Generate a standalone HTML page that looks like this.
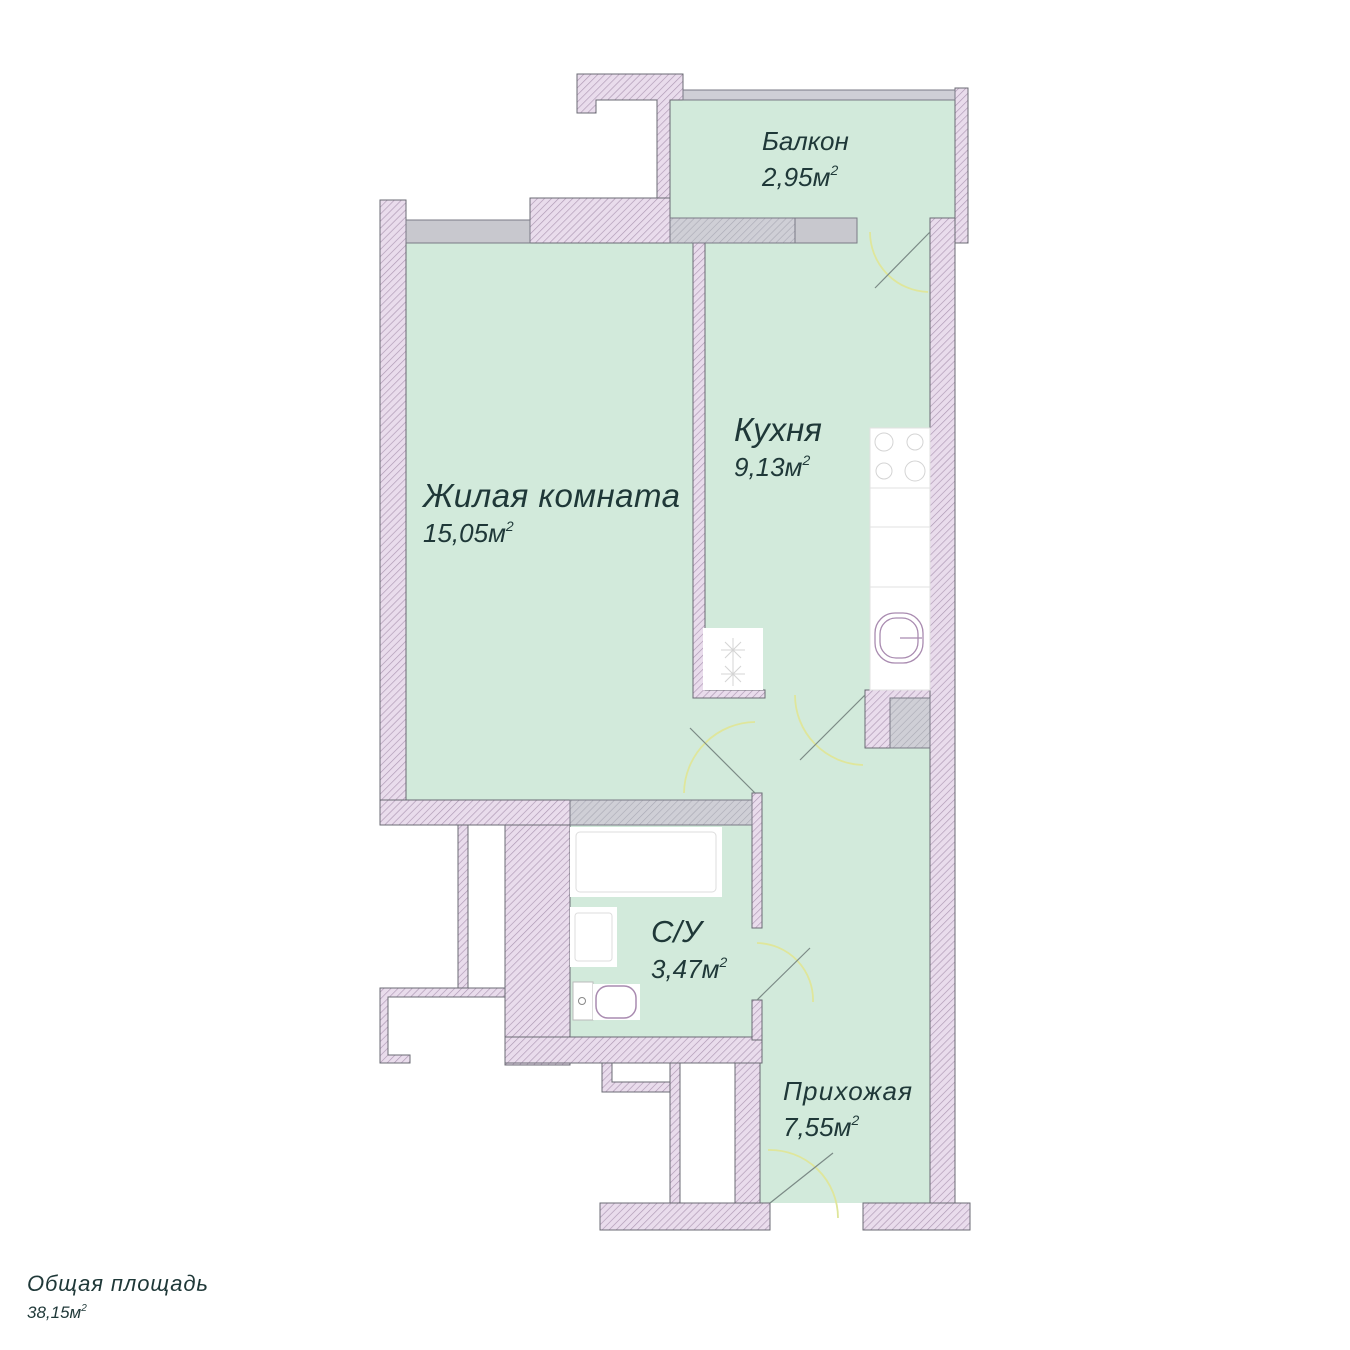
<!DOCTYPE html>
<html><head><meta charset="utf-8"><style>
html,body{margin:0;padding:0;background:#fff;}
svg{display:block}
text{font-family:"Liberation Sans","DejaVu Sans",sans-serif;font-style:italic;fill:#1f3838}
</style></head><body>
<svg width="1350" height="1350" viewBox="0 0 1350 1350" xmlns="http://www.w3.org/2000/svg">
<defs>
<pattern id="h" width="5" height="5" patternUnits="userSpaceOnUse" patternTransform="rotate(45)">
<rect width="5" height="5" fill="#e9dcec"/><line x1="0" y1="0" x2="0" y2="5" stroke="#ad98b3" stroke-width="1.3"/>
</pattern>
<pattern id="g" width="5" height="5" patternUnits="userSpaceOnUse" patternTransform="rotate(45)">
<rect width="5" height="5" fill="#cfcfd6"/><line x1="0" y1="0" x2="0" y2="5" stroke="#a9a9b4" stroke-width="1.2"/>
</pattern>
</defs>
<!-- green floor -->
<g fill="#d2eadb">
<rect x="406" y="243" width="524" height="557"/>
<rect x="752" y="690" width="178" height="513"/>
<rect x="670" y="100" width="285" height="118"/>
<rect x="857" y="215" width="75" height="30"/>
<rect x="570" y="825" width="182" height="212"/>
</g>
<g fill="url(#h)" stroke="#6b6b74" stroke-width="1">
<path d="M577 74 H683 V100 H670 V198 H657 V100 H596 V113 H577 Z"/>
<rect x="530" y="198" width="140" height="45"/>
<rect x="380" y="200" width="26" height="625"/>
<rect x="955" y="88" width="13" height="155"/>
<rect x="930" y="218" width="25" height="985"/>
<path d="M693 243 H705 V690 H765 V698 H693 Z"/>
<path d="M865 690 H930 V698 H890 V748 H865 Z" />
<rect x="380" y="800" width="190" height="25"/>
<rect x="458" y="825" width="10" height="163"/>
<path d="M380 988 H505 V997 H388 V1055 H410 V1063 H380 Z"/>
<rect x="505" y="825" width="65" height="240"/>
<rect x="505" y="1037" width="257" height="26"/>
<rect x="752" y="793" width="10" height="135"/>
<rect x="752" y="1000" width="10" height="40"/>
<path d="M602 1063 H670 V1092 H602 Z"/>
<rect x="670" y="1063" width="10" height="140"/>
<rect x="735" y="1063" width="25" height="140"/>
<rect x="600" y="1203" width="170" height="27"/>
<rect x="863" y="1203" width="107" height="27"/>
</g>
<g fill="#fff" stroke="#6b6b74" stroke-width="1">
<rect x="612" y="1063" width="58" height="19"/>
<rect x="680" y="1063" width="55" height="140"/>
<rect x="468" y="825" width="37" height="163"/>
</g>
<g stroke="#7a7a86" stroke-width="1">
<rect x="683" y="90" width="272" height="10" fill="#cfcfd6"/>
<rect x="406" y="220" width="124" height="23" fill="#c8c8ce"/>
<rect x="670" y="218" width="125" height="25" fill="url(#g)"/>
<rect x="795" y="218" width="62" height="25" fill="#c8c8ce"/>
<rect x="890" y="698" width="40" height="50" fill="url(#g)"/>
<rect x="570" y="800" width="182" height="25" fill="url(#g)"/>
</g>
<g fill="#fff" stroke="#e2e2e2" stroke-width="1">
<rect x="870" y="428" width="60" height="262"/>
<line x1="870" y1="488" x2="930" y2="488"/>
<line x1="870" y1="527" x2="930" y2="527"/>
<line x1="870" y1="587" x2="930" y2="587"/>
<rect x="703" y="628" width="60" height="62" stroke="none"/>
</g>
<g fill="none" stroke="#d4d4d4" stroke-width="1">
<circle cx="884" cy="442" r="9"/><circle cx="915" cy="442" r="8"/>
<circle cx="884" cy="471" r="8"/><circle cx="915" cy="471" r="10"/>
<path d="M725 642 l16 16 M741 642 l-16 16 M733 638 v24 M721 650 h24"/>
<path d="M725 666 l16 16 M741 666 l-16 16 M733 662 v24 M721 674 h24"/>
</g>
<g fill="none" stroke="#a98bb0" stroke-width="1.3">
<rect x="875" y="613" width="48" height="50" rx="20"/>
<rect x="880" y="618" width="38" height="40" rx="16"/>
<line x1="900" y1="638" x2="922" y2="638"/>
</g>
<rect x="570" y="827" width="152" height="70" fill="#fff"/>
<rect x="576" y="832" width="140" height="60" rx="4" fill="none" stroke="#ddd"/>
<rect x="570" y="907" width="47" height="60" fill="#fff"/>
<rect x="575" y="913" width="37" height="48" rx="3" fill="none" stroke="#ddd"/>
<rect x="573" y="982" width="20" height="38" fill="#fff" stroke="#bbb"/>
<circle cx="582" cy="1001" r="3.5" fill="none" stroke="#888"/>
<rect x="593" y="984" width="47" height="36" fill="#fff"/>
<rect x="596" y="986" width="40" height="32" rx="12" fill="none" stroke="#a98bb0" stroke-width="1.5"/>
<g fill="none" stroke="#dfe69b" stroke-width="1.8">
<path d="M870 232 A60 60 0 0 0 928 292"/>
<path d="M755 722 A72 72 0 0 0 684 793"/>
<path d="M795 695 A70 70 0 0 0 863 765"/>
<path d="M757 943 A57 57 0 0 1 813 1002"/>
<path d="M768 1150 A68 68 0 0 1 838 1218"/>
</g>
<g stroke="#7b8a86" stroke-width="1.2">
<line x1="930" y1="232" x2="875" y2="288"/>
<line x1="755" y1="793" x2="690" y2="728"/>
<line x1="865" y1="695" x2="800" y2="760"/>
<line x1="757" y1="1000" x2="810" y2="948"/>
<line x1="770" y1="1203" x2="833" y2="1153"/>
</g>
<text x="762" y="150" font-size="26">Балкон</text>
<text x="762" y="186" font-size="26">2,95м<tspan font-size="14" dy="-11">2</tspan></text>
<text x="734" y="441" font-size="33">Кухня</text>
<text x="734" y="476" font-size="26">9,13м<tspan font-size="14" dy="-11">2</tspan></text>
<text x="423" y="507" font-size="33" textLength="257">Жилая комната</text>
<text x="423" y="542" font-size="26">15,05м<tspan font-size="14" dy="-11">2</tspan></text>
<text x="651" y="942" font-size="31">С/У</text>
<text x="651" y="978" font-size="26">3,47м<tspan font-size="14" dy="-11">2</tspan></text>
<text x="783" y="1100" font-size="26" textLength="129">Прихожая</text>
<text x="783" y="1136" font-size="26">7,55м<tspan font-size="14" dy="-11">2</tspan></text>
<text x="27" y="1291" font-size="22" textLength="181">Общая площадь</text>
<text x="27" y="1318" font-size="17">38,15м<tspan font-size="10" dy="-7">2</tspan></text>
</svg>
</body></html>
